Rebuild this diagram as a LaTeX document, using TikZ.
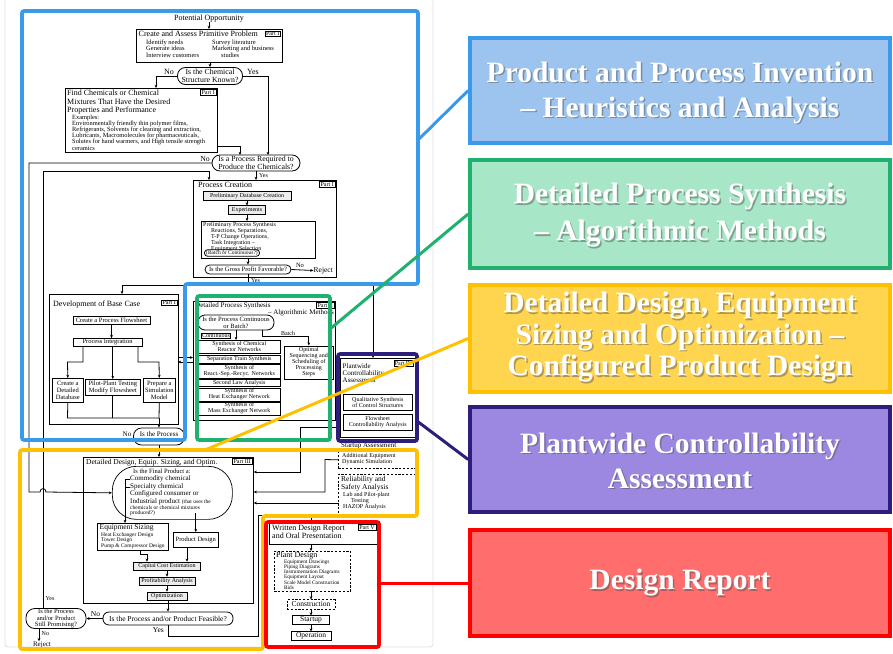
\documentclass[tikz,border=0pt]{standalone}
\usepackage{fontspec}
\setmainfont{Liberation Serif}
\usetikzlibrary{arrows.meta}

\definecolor{bluL}{HTML}{3A9AEA}
\definecolor{bluF}{HTML}{9DC4EF}
\definecolor{grnL}{HTML}{1EB26E}
\definecolor{grnF}{HTML}{A7E6C7}
\definecolor{yelL}{HTML}{FFC000}
\definecolor{yelF}{HTML}{FFD550}
\definecolor{purL}{HTML}{2E1E7B}
\definecolor{purF}{HTML}{9C87E1}
\definecolor{redL}{HTML}{FF0000}
\definecolor{redF}{HTML}{FF6D6D}

\newcommand{\ftitle}{\fontsize{8}{8.8}\selectfont}
\newcommand{\fdec}{\fontsize{7.8}{8}\selectfont}
\newcommand{\fhead}{\fontsize{7.5}{7.6}\selectfont}
\newcommand{\fmid}{\fontsize{7}{7.3}\selectfont}
\newcommand{\ffp}{\fontsize{7}{7.7}\selectfont}
\newcommand{\fbody}{\fontsize{6.5}{6.6}\selectfont}
\newcommand{\fex}{\fontsize{6.4}{6.2}\selectfont}
\newcommand{\fsmall}{\fontsize{6}{6}\selectfont}
\newcommand{\ftag}{\fontsize{6}{6}\selectfont}
\newcommand{\ftiny}{\fontsize{5.5}{5.4}\selectfont}
\newcommand{\fitems}{\fontsize{5.3}{5.2}\selectfont}
\newcommand{\fbanner}{\fontsize{29.5}{35}\selectfont\bfseries}

\begin{document}
\begin{tikzpicture}[x=1pt, y=-1pt,
  every node/.style={inner sep=0pt},
  pbox/.style={draw, line width=0.7pt, anchor=north west},
  lbl/.style={anchor=north west, align=left},
  sb/.style={draw, line width=0.6pt, inner sep=0.6pt, align=center, font=\fsmall},
  sbn/.style={sb, anchor=north west},
  dbox/.style={draw, line width=0.7pt, dash pattern=on 2.2pt off 1.6pt},
  tag/.style={draw, line width=0.5pt, inner sep=1pt, font=\ftag, anchor=north east},
  dec/.style={draw, line width=0.8pt, rounded corners=6pt, align=center, inner sep=0.5pt},
  wire/.style={line width=0.8pt},
  flow/.style={line width=0.8pt, -{Stealth[length=3.2pt, width=2.8pt]}},
  zone/.style={line width=3.6pt, rounded corners=2pt},
  link/.style={line width=3pt},
  banner/.style={draw, line width=3.6pt, minimum width=420pt},
  btext/.style={text=white, font=\fbanner, align=center},
  bshade/.style={text=black!70, opacity=0.45, font=\fbanner, align=center}
]
\useasboundingbox (0,0) rectangle (893,653);

% faint frame of the flow chart panel
\draw[gray!25, line width=0.8pt, rounded corners=3pt] (5,-3) rectangle (433,647);

% ---------------- Part I : problem definition
\node[font=\ftitle] (opp) at (209,18.5) {Potential Opportunity};
\node[pbox, minimum width=146pt, minimum height=33pt] (cap) at (136,29) {};
\node[lbl, font=\ftitle] (capT) at (138.5,30.5) {Create and Assess Primitive Problem};
\node[tag] (capP) at (280.5,30.5) {Part I};
\node[lbl, font=\fbody] (capA) at (146,39.5) {Identify needs\\Generate ideas\\Interview customers};
\node[lbl, font=\fbody] (capB) at (212,39.5) {Survey literature\\Marketing and business\\\hspace*{9pt}studies};
\draw[flow] (opp.south) -- (opp.south |- cap.north);

\node[dec, font=\fdec, rounded corners=8pt, minimum width=65pt, minimum height=17pt] (qst) at (210,76) {Is the Chemical\\Structure Known?};
\draw[flow] (qst.north |- cap.south) -- (qst.north);
\node[font=\ftitle, anchor=south east] (qstNo) at (174,74.5) {No};
\node[font=\ftitle, anchor=south west] (qstYes) at (247,74.5) {Yes};

\node[pbox, minimum width=152pt, minimum height=64pt] (fc) at (65,88) {};
\node[lbl, font=\ftitle] (fcT) at (67,89.5) {Find Chemicals or Chemical\\Mixtures That Have the Desired\\Properties and Performance};
\node[tag] (fcP) at (216,89) {Part I};
\node[lbl, font=\fex] (fcE) at (72,114.5) {Examples:\\Environmentally friendly thin polymer films,\\Refrigerants, Solvents for cleaning and extraction,\\Lubricants, Macromolecules for pharmaceuticals,\\Solutes for hand warmers, and High tensile strength\\ceramics};
\draw[flow] (qst.west) -| (156,88);

\node[dec, font=\fdec, rounded corners=8pt, minimum width=88pt, minimum height=16pt] (qpr) at (256,163) {Is a Process Required to\\Produce the Chemicals?};
\draw[flow] (qst.east) -| (268,155);
\draw[flow] (217,146) -| (240,155);
\node[font=\fdec, anchor=east] (qprNo) at (210,158.5) {No};
\node[font=\fsmall, anchor=west] (qprYes) at (259,175.5) {Yes};

% ---------------- Part I : process creation
\node[pbox, minimum width=143pt, minimum height=97pt] (pc) at (193,180) {};
\draw[flow] (qpr.south) -- (qpr.south |- pc.north);
\node[lbl, font=\ftitle] (pcT) at (198,182) {Process Creation};
\node[tag] (pcP) at (335,181) {Part I};
\node[sb, fill=gray!15, minimum width=88pt, minimum height=8.5pt] (pdb) at (247,196) {Preliminary Database Creation};
\node[sb, fill=gray!15, minimum width=37pt, minimum height=8.5pt] (exq) at (247,210) {Experiments};
\node[pbox, minimum width=114pt, minimum height=37pt] (pps) at (201,221) {};
\node[lbl, font=\fsmall] (ppsT) at (203,222) {Preliminary Process Synthesis\\\hspace*{8pt}Reactions, Separations,\\\hspace*{8pt}T-P Change Operations,\\\hspace*{8pt}Task Integration –\\\hspace*{8pt}Equipment Selection};
\node[dec, font=\ftiny, rounded corners=3pt, minimum width=55pt, minimum height=6.5pt] (pbc) at (232,253) {(Batch or Continuous?)};
\node[dec, font=\fbody, rounded corners=4.5pt, minimum width=86pt, minimum height=9pt] (qgp) at (248,269.5) {Is the Gross Profit Favorable?};
\draw[flow] (pdb.south) -- (exq.north);
\draw[flow] (exq.south) -- (exq.south |- pps.north);
\draw[flow] (qgp.north |- pps.south) -- (qgp.north);
\node[font=\fhead, anchor=west] (rej1) at (313.5,270.5) {Reject};
\draw[flow] (qgp.east) -- (rej1.west);
\node[font=\fbody, anchor=south] (qgpNo) at (300,268) {No};
\node[font=\fsmall, anchor=west] (qgpYes) at (251,280.5) {Yes};

% feed line from the gross-profit test
\coordinate (busL) at (122,285);
\coordinate (busR) at (373,285);
\draw[wire] (qgp.south) -- (248,285);
\draw[wire] (busL) -- (busR);

% ---------------- Part I : development of base case
\node[pbox, minimum width=129pt, minimum height=130pt] (dbc) at (49,294) {};
\draw[flow] (busL) -- (122,294);
\node[lbl, font=\ftitle] (dbcT) at (53,301) {Development of Base Case};
\node[tag] (dbcP) at (177,299.5) {Part I};
\node[sb, font=\fbody, minimum width=77pt, minimum height=8pt] (cpf) at (111.5,320.5) {Create a Process Flowsheet};
\node[sb, font=\fbody, minimum width=69pt, minimum height=8pt] (pin) at (107.5,342.5) {Process Integration};
\draw[flow] (cpf.south) -- (cpf.south |- pin.north);
\node[sbn, font=\fbody, minimum width=31pt, minimum height=24pt] (cdd) at (52,378) {Create a\\Detailed\\Database};
\node[sbn, font=\fbody, minimum width=55pt, minimum height=16pt] (ppt) at (85,379) {Pilot-Plant Testing\\Modify Flowsheet};
\node[sbn, font=\fbody, minimum width=32pt, minimum height=24pt] (psm) at (143,378) {Prepare a\\Simulation\\Model};
\draw[flow] (83,346.5) |- (67.5,362) -- (cdd.north);
\draw[flow] (ppt.north |- pin.south) -- (ppt.north);
\draw[flow] (138,346.5) |- (159,362) -- (psm.north);
\draw[wire] (cdd.south) -- (67.5,418) -- (159,418);
\draw[wire] (ppt.south) -- (ppt.south |- 0,418);
\draw[wire] (psm.south) -- (159,418);
\node[dec, rounded corners=8pt, minimum width=51pt, minimum height=17pt] (qbp) at (159,436.5) {};
\node[font=\fmid] (qbpT) at (159,434.5) {Is the Process};
\node[font=\fmid, anchor=east] (qbpNo) at (131.5,434) {No};
\draw[flow] (159,418) -- (qbp.north);

% ---------------- Part II : detailed process synthesis
\node[pbox, minimum width=142pt, minimum height=119pt] (dps) at (193,301) {};
\node[lbl, font=\fmid] (dpsT) at (195,302.5) {Detailed Process Synthesis};
\node[font=\fmid, anchor=north east] (dpsT2) at (334,309.5) {– Algorithmic Methods};
\node[tag] (dpsP) at (334,302) {Part II};
\node[dec, font=\fbody, rounded corners=7pt, minimum width=76pt, minimum height=15pt] (qcb) at (236,322.5) {Is the Process Continuous\\or Batch?};
\node[draw, line width=0.5pt, inner sep=0.7pt, font=\fsmall] (cont) at (216,335.5) {Continuous};
\node[font=\fsmall, anchor=south] (batchL) at (288,335.5) {Batch};
\node[sbn, minimum width=82pt, minimum height=13pt] (s1) at (198,340) {Synthesis of Chemical\\Reactor Networks};
\node[sbn, minimum width=82pt, minimum height=7.5pt] (s2) at (198,355) {Separation Train Synthesis};
\node[sbn, minimum width=82pt, minimum height=13.5pt] (s3) at (198,364) {Synthesis of\\React.-Sep.-Recyc. Networks};
\node[sbn, minimum width=82pt, minimum height=7pt] (s4) at (198,379) {Second Law Analysis};
\node[sbn, minimum width=82pt, minimum height=13pt] (s5) at (198,387.5) {Synthesis of\\Heat Exchanger Network};
\node[sbn, minimum width=82pt, minimum height=13pt] (s6) at (198,401.5) {Synthesis of\\Mass Exchanger Network};
\node[sbn, minimum width=49pt, minimum height=33pt] (osp) at (284,345.5) {Optimal\\Sequencing and\\Scheduling of\\Processing\\Steps};
\draw[flow] (qcb.south) -- (qcb.south |- s1.north);
\draw[flow] (262,330) |- (osp.north |- 0,336.5) -- (osp.north);
\draw[flow] (178,357.5) -- (193,357.5);
\draw[flow] (193,362) -- (178,362);

% ---------------- Part IV : plantwide controllability
\node[pbox, minimum width=75pt, minimum height=79pt] (plw) at (340,358) {};
\draw[flow] (busR) -- (plw.north -| busR);
\node[lbl, font=\fmid] (plwT) at (342.5,363) {Plantwide\\Controllability\\Assessment};
\node[tag] (plwP) at (413.5,360) {Part IV};
\node[sbn, minimum width=69pt, minimum height=16pt] (qsc) at (343,394) {Qualitative Synthesis\\of Control Structures};
\node[sbn, minimum width=69pt, minimum height=16pt] (fca) at (343,414) {Flowsheet\\Controllability Analysis};
\draw[flow] (335,417) -- (340,417);

\node[lbl, font=\fmid] (sua) at (341,442.5) {Startup Assessment};
\node[dbox, anchor=north west, minimum width=79pt, minimum height=17pt] (aeq) at (338,451) {};
\node[lbl, font=\fsmall] (aeqT) at (342,453) {Additional Equipment\\Dynamic Simulation};
\node[dbox, anchor=north west, minimum width=79pt, minimum height=41pt] (rsa) at (338,474) {};
\node[lbl, font=\fhead] (rsaT) at (341,476) {Reliability and\\Safety Analysis};
\node[lbl, font=\fsmall] (rsaU) at (343,492.5) {Lab and Pilot-plant\\\hspace*{8pt}Testing\\HAZOP Analysis};

% ---------------- Part III : detailed design
\node[pbox, minimum width=170pt, minimum height=146pt] (dd) at (83,457) {};
\draw[flow] (qbp.south) -- (qbp.south |- dd.north);
\node[lbl, font=\fhead] (ddT) at (86,459.5) {Detailed Design, Equip. Sizing, and Optim.};
\node[tag] (ddP) at (252,458) {Part III};
\node[draw, line width=0.7pt, rounded corners=24pt, anchor=north west, minimum width=120pt, minimum height=53pt] (fp) at (112,466) {};
\node[lbl, font=\fbody] (fpQ) at (133,468.5) {Is the Final Product a:};
\node[lbl, font=\ffp] (fpA) at (130,475.5) {Commodity chemical\\Specialty chemical\\Configured consumer or\\Industrial product {\ftiny(that uses the}};
\node[lbl, font=\ftiny] (fpB) at (130,505.5) {chemicals or chemical mixtures\\produced?)};
\draw[wire] (130,479.5) -- (125,479.5);
\draw[wire] (130,487) -- (125,487);

\node[pbox, minimum width=71pt, minimum height=27pt] (es) at (97,523) {};
\node[lbl, font=\fhead] (esT) at (99.5,524) {Equipment Sizing};
\node[lbl, font=\ftiny] (esL) at (101,532.5) {Heat Exchanger Design\\Tower Design\\Pump \& Compressor Design};
\node[sbn, font=\fbody, minimum width=45pt, minimum height=15pt] (pd) at (173,532) {Product Design};
\draw[flow] (125,479.5) -- (es.north -| 125,0);
\draw[flow] (pd.north |- 0,513) -- (pd.north);

\node[sb, fill=gray!15, minimum width=67pt, minimum height=8pt] (cce) at (167,566) {Capital Cost Estimation};
\node[sb, fill=gray!15, minimum width=56pt, minimum height=8pt] (pa) at (167,581) {Profitability Analysis};
\node[sb, fill=gray!15, minimum width=40pt, minimum height=8pt] (opt) at (167,596) {Optimization};
\draw[flow] (140,550) |- (147,554) -- (cce.north -| 147,0);
\draw[flow] (187,547) -- (cce.north -| 187,0);
\draw[flow] (cce.south) -- (pa.north);
\draw[flow] (pa.south) -- (opt.north);

% inputs from the controllability studies
\draw[flow] (plw.west |- 0,427) -- (300,427) |- (dd.east |- 0,472);
\draw[flow] (aeq.west) -- (325,459.5) |- (dd.east |- 0,492);
\draw[flow] (rsa.west |- 0,503) -- (dd.east |- 0,503);

% feasibility tests
\node[dec, font=\fhead, rounded corners=6pt, minimum width=130pt, minimum height=13pt] (qfe) at (168,618.5) {Is the Process and/or Product Feasible?};
\draw[flow] (opt.south) -- (opt.south -| qfe.north) -- (qfe.north);
\node[dec, font=\fbody, rounded corners=9pt, minimum width=60pt, minimum height=20pt] (qsp) at (56,618.5) {Is the Process\\and/or Product\\Still Promising?};
\draw[flow] (qfe.west) -- (qsp.east);
\node[font=\fhead, anchor=south] (qfeNo) at (95.5,616.5) {No};
\node[font=\fhead, anchor=east] (qfeYes) at (164,630.5) {Yes};
\node[font=\fsmall, anchor=west] (qspYes) at (45.5,599) {Yes};
\node[font=\fsmall, anchor=west] (qspNo) at (41.5,633.5) {No};
\node[font=\fmid] (rej2) at (42,644.5) {Reject};
\draw[flow] (39,628.5) -- (rej2.north -| 39,0);

% loop back to process creation
\draw[flow] (43,608.5) -- (43,171) -- (209,171) -- (209,180);
% "no process required" route into the final-product test (hops the loop line)
\draw[flow] (qpr.west) -- (29,163) -- (29,492) -- (40,492) .. controls (40,487.5) and (46,487.5) .. (46,492) -- (fp.west);

% ---------------- Part V : design report
\node[pbox, minimum width=108pt, minimum height=21pt] (wdr) at (269,523) {};
\node[lbl, font=\ftitle] (wdrT) at (272,524.5) {Written Design Report\\and Oral Presentation};
\node[tag] (wdrP) at (376,524) {Part V};
\draw[flow] (qfe.south) -- (168,636) -- (258,636) -- (258,515) -- (311,515) -- (311,523);
\node[dbox, anchor=north west, minimum width=76pt, minimum height=40pt] (pld) at (274,551) {};
\node[lbl, font=\ftitle] (pldT) at (276,552) {Plant Design};
\node[lbl, font=\fitems] (pldL) at (284,559.5) {Equipment Drawings\\Piping Diagrams\\Instrumentation Diagrams\\Equipment Layout\\Scale Model Construction\\Bids};
\node[dbox, font=\fhead, minimum width=48pt, minimum height=9.5pt] (con) at (311,604.5) {Construction};
\node[sb, font=\fhead, minimum width=37pt, minimum height=8.5pt] (stu) at (311,620) {Startup};
\node[sb, font=\fhead, minimum width=40pt, minimum height=8.5pt] (ope) at (311,636) {Operation};
\draw[flow] (311,544) -- (311,551);
\draw[flow] (311,591) -- (con.north);
\draw[flow] (con.south) -- (stu.north);
\draw[flow] (stu.south) -- (ope.north);

% ---------------- coloured zones over the chart
\draw[zone, bluL] (22,11) -- (418,11) -- (418,284) -- (185,284) -- (185,440) -- (22,440) -- cycle;
\draw[zone, grnL] (197,296) rectangle (330,440);
\draw[zone, purL] (338,354) rectangle (417,441);
\draw[zone, yelL] (20,450) -- (417,450) -- (417,516) -- (263,516) -- (263,649) -- (20,649) -- cycle;
\draw[zone, redL] (266,522) rectangle (379,647);

% ---------------- banners on the right
\node[banner, draw=bluL, fill=bluF, minimum height=105pt] (bnBlue) at (680,90.5) {};
\node[banner, draw=grnL, fill=grnF, minimum height=108pt] (bnGreen) at (680,214) {};
\node[banner, draw=yelL, fill=yelF, minimum height=107pt] (bnYellow) at (680,338.5) {};
\node[banner, draw=purL, fill=purF, minimum height=105pt] (bnPurple) at (680,459.5) {};
\node[banner, draw=redL, fill=redF, minimum height=106pt] (bnRed) at (680,583) {};

\draw[link, bluL] (418,140) -- (bnBlue.west);
\draw[link, grnL] (330,329) -- (bnGreen.west);
\draw[link, yelL] (205,450) -- (bnYellow.west);
\draw[link, purL] (417,421) -- (bnPurple.west);
\draw[link, redL] (379,583) -- (bnRed.west);

\node[bshade] (bnBlueS) at (681.5,94) {Product and Process Invention\\– Heuristics and Analysis};
\node[btext] (bnBlueT) at (680,92.5) {Product and Process Invention\\– Heuristics and Analysis};
\node[bshade, font=\fontsize{29.5}{37}\selectfont\bfseries] (bnGreenS) at (681.5,217) {Detailed Process Synthesis\\– Algorithmic Methods};
\node[btext, font=\fontsize{29.5}{37}\selectfont\bfseries] (bnGreenT) at (680,215.5) {Detailed Process Synthesis\\– Algorithmic Methods};
\node[bshade, font=\fontsize{29.5}{31.5}\selectfont\bfseries] (bnYellowS) at (681.5,339) {Detailed Design, Equipment\\Sizing and Optimization –\\Configured Product Design};
\node[btext, font=\fontsize{29.5}{31.5}\selectfont\bfseries] (bnYellowT) at (680,337.5) {Detailed Design, Equipment\\Sizing and Optimization –\\Configured Product Design};
\node[bshade] (bnPurpleS) at (681.5,462) {Plantwide Controllability\\Assessment};
\node[btext] (bnPurpleT) at (680,460.5) {Plantwide Controllability\\Assessment};
\node[bshade] (bnRedS) at (681.5,584.5) {Design Report};
\node[btext] (bnRedT) at (680,583) {Design Report};
\end{tikzpicture}
\end{document}
